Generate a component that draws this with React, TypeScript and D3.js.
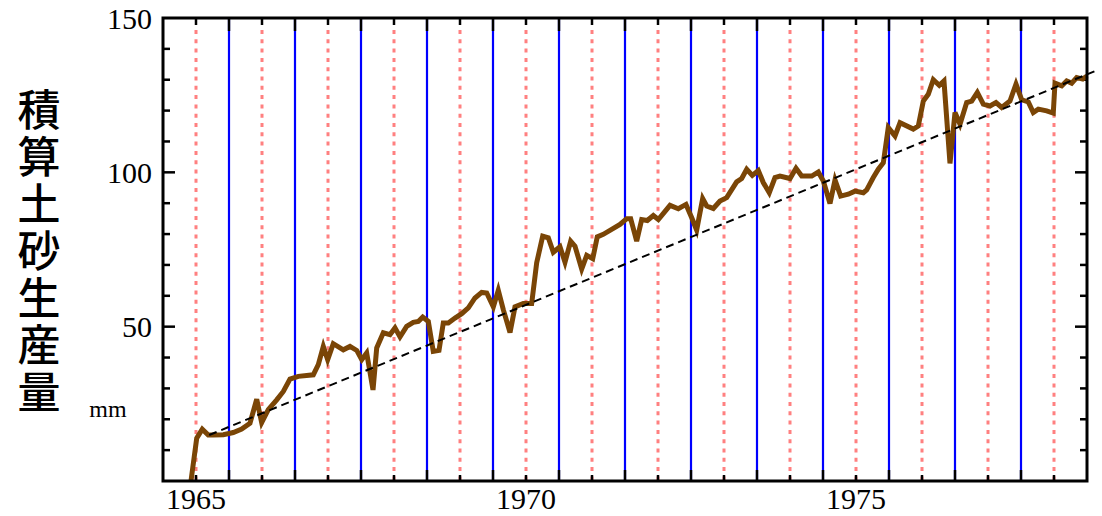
import React, { useEffect, useRef } from 'react';
import * as d3 from 'd3';

// time axis (decimal year) and cumulative sediment yield (mm)
const years = [
  1964.924, 1965.011, 1965.095, 1965.186, 1965.262, 1965.414, 1965.565, 1965.692, 1965.818, 1965.92,
  1965.995, 1966.095, 1966.223, 1966.323, 1966.424, 1966.55, 1966.777, 1966.853, 1966.929, 1966.995,
  1967.08, 1967.232, 1967.333, 1967.435, 1967.511, 1967.586, 1967.682, 1967.738, 1967.838, 1967.939,
  1968.015, 1968.091, 1968.192, 1968.292, 1968.368, 1968.435, 1968.52, 1968.595, 1968.682, 1968.747,
  1968.823, 1968.924, 1969.026, 1969.126, 1969.227, 1969.329, 1969.405, 1969.505, 1969.58, 1969.656,
  1969.758, 1969.833, 1969.959, 1970.086, 1970.162, 1970.253, 1970.338, 1970.414, 1970.515, 1970.591,
  1970.677, 1970.742, 1970.844, 1970.92, 1971.011, 1971.08, 1971.171, 1971.298, 1971.424, 1971.526,
  1971.586, 1971.677, 1971.753, 1971.838, 1971.929, 1972.005, 1972.182, 1972.308, 1972.424, 1972.511,
  1972.586, 1972.677, 1972.738, 1972.838, 1972.939, 1973.041, 1973.192, 1973.268, 1973.344, 1973.429,
  1973.52, 1973.595, 1973.686, 1973.773, 1973.848, 1974.0, 1974.091, 1974.177, 1974.329, 1974.429,
  1974.505, 1974.606, 1974.682, 1974.768, 1974.883, 1974.985, 1975.111, 1975.162, 1975.262, 1975.338,
  1975.414, 1975.489, 1975.591, 1975.667, 1975.868, 1975.944, 1976.02, 1976.095, 1976.171, 1976.262,
  1976.333, 1976.424, 1976.5, 1976.576, 1976.677, 1976.753, 1976.838, 1976.929, 1977.03, 1977.121,
  1977.208, 1977.333, 1977.424, 1977.511, 1977.611, 1977.686, 1977.762, 1977.889, 1977.989, 1978.015,
  1978.117, 1978.192, 1978.268, 1978.344, 1978.435, 1978.5
];
const sediment = [
  0, 13.9, 16.8, 14.9, 14.9, 15.0, 15.7, 16.8, 18.7, 26.5,
  18.9, 23.1, 26.3, 29.0, 33.0, 33.9, 34.4, 37.7, 43.6, 39.3,
  44.5, 42.5, 43.6, 42.3, 39.3, 41.5, 29.5, 43.1, 48.0, 47.4,
  49.6, 46.7, 50.1, 51.4, 51.7, 53.1, 51.7, 42.0, 42.3, 51.2,
  51.2, 52.8, 54.2, 56.1, 59.3, 61.1, 60.9, 56.4, 61.8, 55.5,
  48.1, 56.4, 57.5, 57.5, 70.7, 79.3, 78.8, 74.1, 75.9, 70.9,
  77.7, 76.1, 68.7, 73.1, 72.0, 79.1, 79.9, 81.5, 83.1, 85.0,
  85.0, 77.7, 84.7, 84.4, 86.0, 84.7, 89.3, 88.2, 89.6, 85.3,
  81.3, 91.5, 89.1, 88.3, 90.7, 91.8, 96.9, 98.0, 101.0, 99.0,
  100.6, 96.7, 93.4, 98.3, 98.8, 98.0, 101.3, 98.8, 98.8, 100.1,
  97.2, 89.9, 97.5, 92.3, 92.9, 93.9, 93.4, 94.3, 98.3, 101.0,
  103.1, 114.5, 111.8, 116.1, 114.0, 115.0, 123.1, 125.3, 130.0, 128.2,
  129.6, 102.9, 119.4, 115.6, 122.6, 123.1, 125.9, 122.1, 121.5, 122.6,
  121.0, 123.1, 128.6, 123.5, 122.8, 119.4, 120.5, 119.9, 119.2, 128.9,
  128.0, 129.6, 128.9, 130.7, 130.2, 131.2
];
// linear trend (start / end)
const trendYears = [1965.2, 1978.62];
const trendValues = [14.9, 132.8];

const yTicks = [50, 100, 150];
const xLabels = [1965, 1970, 1975];
const yTitle = ['積', '算', '土', '砂', '生', '産', '量'];

function App() {
  const chartRef = useRef(null);

  useEffect(function () {
    const svg = d3.select(chartRef.current);
    svg.selectAll('*').remove();

    const left = 163, right = 1087, top = 18, bottom = 481;

    const x = d3.scaleLinear().domain([1964.5, 1978.5]).range([left, right]);
    const y = d3.scaleLinear().domain([0, 150]).range([bottom, top]);

    // red dotted lines at each year
    const yearLines = d3.range(1965, 1979);
    svg.append('g')
      .selectAll('line')
      .data(yearLines)
      .join('line')
      .attr('x1', d => x(d)).attr('x2', d => x(d))
      .attr('y1', top + 12).attr('y2', bottom)
      .attr('stroke', '#ff8080')
      .attr('stroke-width', 3)
      .attr('stroke-dasharray', '4,5.3');

    // blue lines at half years
    const halfLines = d3.range(1965.5, 1978.5, 1);
    svg.append('g')
      .selectAll('line')
      .data(halfLines)
      .join('line')
      .attr('x1', d => x(d)).attr('x2', d => x(d))
      .attr('y1', top).attr('y2', bottom)
      .attr('stroke', '#0000ff')
      .attr('stroke-width', 2.2);

    // ticks
    const ticks = svg.append('g').attr('stroke', '#000').attr('stroke-width', 2.5);
    halfLines.forEach(d => {
      ticks.append('line').attr('x1', x(d)).attr('x2', x(d)).attr('y1', top).attr('y2', top + 13);
      ticks.append('line').attr('x1', x(d)).attr('x2', x(d)).attr('y1', bottom).attr('y2', bottom - 11);
    });
    yearLines.forEach(d => {
      ticks.append('line').attr('x1', x(d)).attr('x2', x(d)).attr('y1', top).attr('y2', top + 7);
      ticks.append('line').attr('x1', x(d)).attr('x2', x(d)).attr('y1', bottom).attr('y2', bottom - 6);
    });
    d3.range(10, 150, 10).forEach(v => {
      const len = v % 50 === 0 ? 12 : 7;
      ticks.append('line').attr('x1', left).attr('x2', left + len).attr('y1', y(v)).attr('y2', y(v));
      ticks.append('line').attr('x1', right).attr('x2', right - len).attr('y1', y(v)).attr('y2', y(v));
    });

    // data line
    const line = d3.line()
      .x((d, i) => x(years[i]))
      .y(d => y(d));
    svg.append('path')
      .datum(sediment)
      .attr('d', line)
      .attr('fill', 'none')
      .attr('stroke', '#7a4506')
      .attr('stroke-width', 5)
      .attr('stroke-linejoin', 'miter');

    // trend line
    svg.append('line')
      .attr('x1', x(trendYears[0])).attr('y1', y(trendValues[0]))
      .attr('x2', x(trendYears[1])).attr('y2', y(trendValues[1]))
      .attr('stroke', '#000')
      .attr('stroke-width', 2)
      .attr('stroke-dasharray', '8,5');

    // frame
    svg.append('rect')
      .attr('x', left).attr('y', top)
      .attr('width', right - left).attr('height', bottom - top)
      .attr('fill', 'none')
      .attr('stroke', '#000')
      .attr('stroke-width', 3);

    // labels
    const font = '"Liberation Serif", "Times New Roman", serif';
    svg.append('g')
      .selectAll('text')
      .data(yTicks)
      .join('text')
      .attr('x', 152)
      .attr('y', d => y(d))
      .attr('dy', '0.35em')
      .attr('text-anchor', 'end')
      .style('font-family', font)
      .style('font-size', '30px')
      .text(d => d);

    svg.append('g')
      .selectAll('text')
      .data(xLabels)
      .join('text')
      .attr('x', d => x(d))
      .attr('y', 509)
      .attr('text-anchor', 'middle')
      .style('font-family', font)
      .style('font-size', '30px')
      .text(d => d);

    svg.append('g')
      .selectAll('text')
      .data(yTitle)
      .join('text')
      .attr('x', 39)
      .attr('y', (d, i) => 111 + i * 47)
      .attr('dy', '0.36em')
      .attr('text-anchor', 'middle')
      .style('font-family', '"Noto Sans CJK JP", sans-serif')
      .style('font-size', '43px')
      .style('font-weight', 500)
      .text(d => d);

    svg.append('text')
      .attr('x', 108).attr('y', 417)
      .attr('text-anchor', 'middle')
      .style('font-family', font)
      .style('font-size', '24px')
      .text('mm');
  });

  return (
    <svg ref={chartRef} width={1102} height={516}
      style={{ position: 'absolute', left: 0, top: 0, background: '#fff' }} />
  );
}

export default App;
